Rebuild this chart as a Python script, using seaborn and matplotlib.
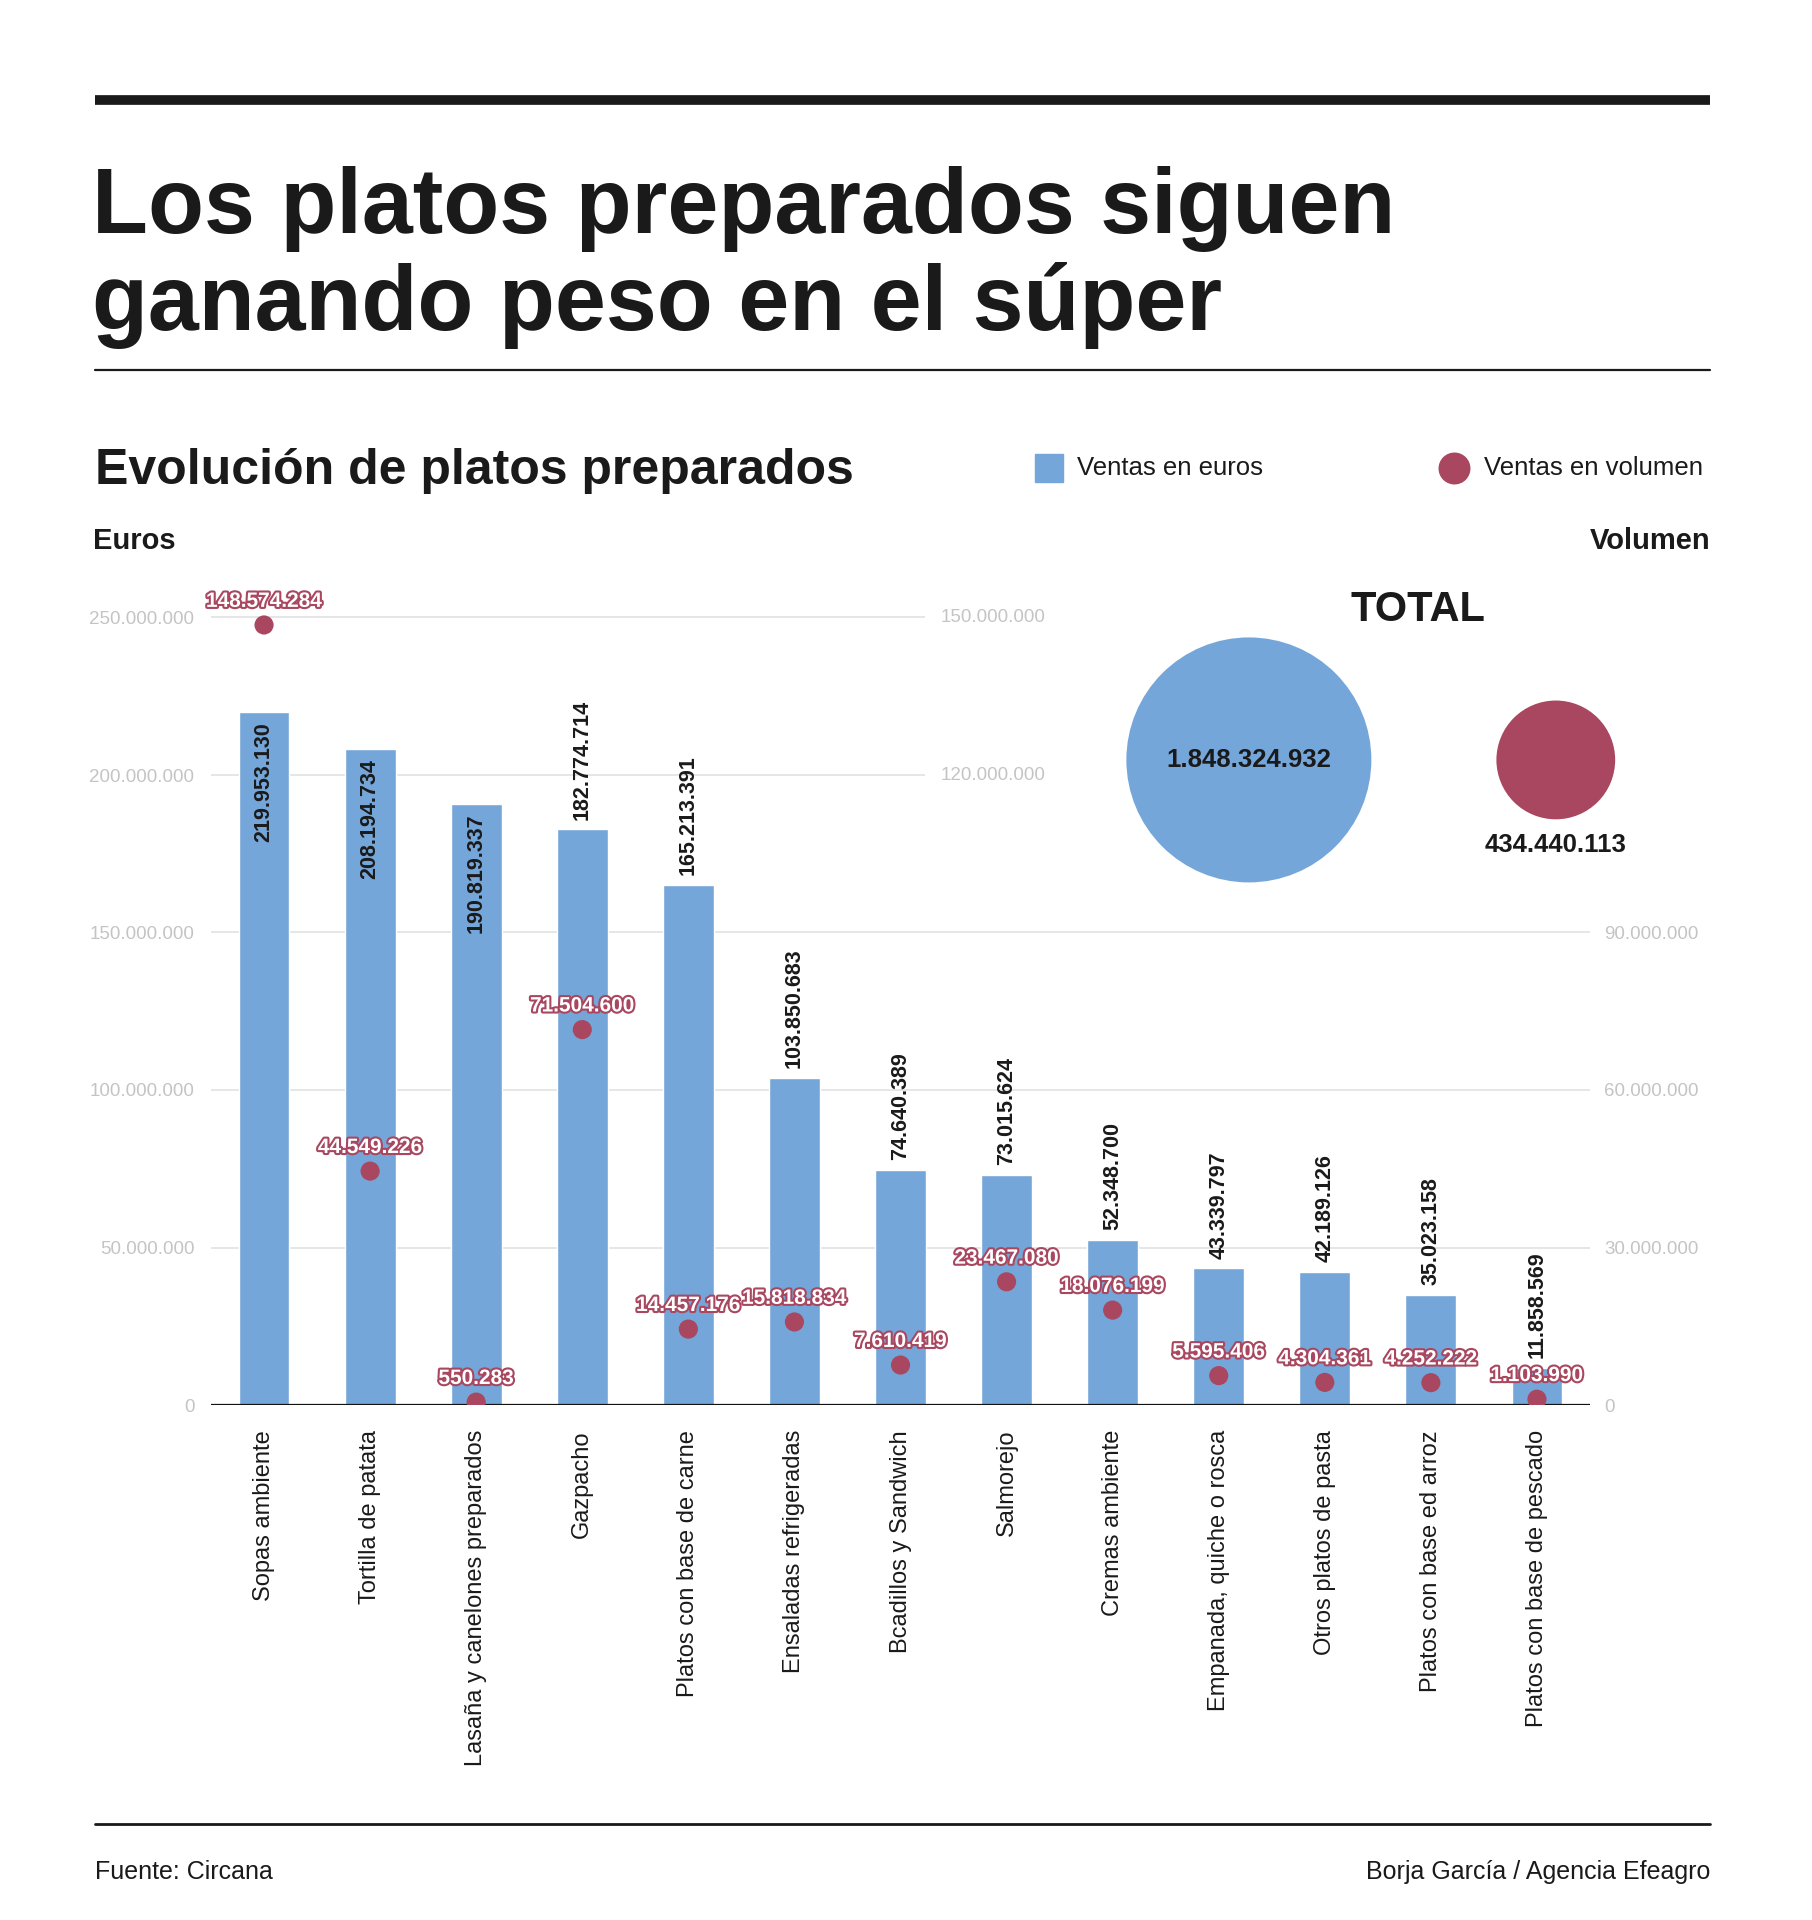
import matplotlib

matplotlib.use("Agg")
import matplotlib.patheffects as pe  # noqa: E402
import matplotlib.pyplot as plt  # noqa: E402
import numpy as np  # noqa: E402
import seaborn as sns  # noqa: E402
from matplotlib.lines import Line2D  # noqa: E402

# datos
categorias = [
    "Sopas ambiente",
    "Tortilla de patata",
    "Lasaña y canelones preparados",
    "Gazpacho",
    "Platos con base de carne",
    "Ensaladas refrigeradas",
    "Bcadillos y Sandwich",
    "Salmorejo",
    "Cremas ambiente",
    "Empanada, quiche o rosca",
    "Otros platos de pasta",
    "Platos con base ed arroz",
    "Platos con base de pescado",
]
ventas_euros = [
    219953130, 208194734, 190819337, 182774714, 165213391, 103850683, 74640389,
    73015624, 52348700, 43339797, 42189126, 35023158, 11858569,
]
ventas_volumen = [
    148574284, 44549226, 550283, 71504600, 14457176, 15818834, 7610419,
    23467080, 18076199, 5595406, 4304361, 4252222, 1103990,
]
totales = [1848324932, 434440113]
ticks_euros = [0, 50000000, 100000000, 150000000, 200000000, 250000000]
ticks_volumen = [0, 30000000, 60000000, 90000000, 120000000, 150000000]

BLUE = "#75a6d9"
RED = "#a8475f"
GRID = "#e2e2e2"
TICK = "#c4c4c4"
INK = "#1a1a1a"

sns.set_theme(style="white")
plt.rcParams["font.family"] = ["Liberation Sans", "DejaVu Sans"]

W, H = 1812, 1920
fig = plt.figure(figsize=(W / 100, H / 100), dpi=100)


def fx(px):
    return px / W


def fy(py):
    return 1 - py / H


def fmt(v):
    return f"{v:,}".replace(",", ".")


# --- cabecera
fig.add_artist(Line2D([fx(95), fx(1710)], [fy(100), fy(100)], transform=fig.transFigure,
                      color=INK, lw=7, solid_capstyle="butt"))
for txt, y in [("Los platos preparados siguen", 233), ("ganando peso en el súper", 330)]:
    fig.text(fx(92), fy(y), txt, va="baseline", ha="left", fontsize=66,
             fontweight="bold", color=INK)
fig.add_artist(Line2D([fx(95), fx(1710)], [fy(370), fy(370)], transform=fig.transFigure,
                      color=INK, lw=1.6))
fig.text(fx(95), fy(484), "Evolución de platos preparados", va="baseline", fontsize=36,
         fontweight="bold", color=INK)

# leyenda
fig.add_artist(Line2D([fx(1049)], [fy(468)], transform=fig.transFigure, marker="s",
                      markersize=20, color=BLUE, lw=0))
fig.text(fx(1077), fy(468), "Ventas en euros", va="center", fontsize=18.5, color=INK)
fig.add_artist(Line2D([fx(1454)], [fy(468)], transform=fig.transFigure, marker="o",
                      markersize=22, color=RED, lw=0))
fig.text(fx(1484), fy(468), "Ventas en volumen", va="center", fontsize=18.5, color=INK)

fig.text(fx(93), fy(541), "Euros", va="center", ha="left", fontsize=21, fontweight="bold",
         color=INK)
fig.text(fx(1710), fy(541), "Volumen", va="center", ha="right", fontsize=21, fontweight="bold",
         color=INK)

# --- grafico principal
ax = fig.add_axes([fx(211), fy(1405), fx(1590) - fx(211), (1405 - 586) / H])
n = len(categorias)
ax.set_xlim(-0.5, n - 0.5)
ax.set_ylim(0, 260000000)

for t in ticks_euros[1:]:
    xmax = 6.23 if t >= 200000000 else n - 0.5
    ax.hlines(t, -0.5, xmax, color=GRID, lw=1.2, zorder=0)

sns.barplot(x=categorias, y=ventas_euros, color=BLUE, saturation=1, width=0.48, ax=ax,
            zorder=2)
ax.axhline(0, color="#111111", lw=1.6, zorder=4)

for i, v in enumerate(ventas_euros):
    inside = v > 185000000
    ax.annotate(fmt(v), (i, v), xytext=(0, -7 if inside else 7), textcoords="offset points",
                rotation=90, ha="center", va="top" if inside else "bottom",
                fontsize=15.5, fontweight="bold", color=INK, zorder=5)

ax.set_xticks(range(n))
ax.set_xticklabels(categorias, rotation=90, fontsize=17, color=INK)
ax.set_yticks(ticks_euros)
ax.set_yticklabels([fmt(t) for t in ticks_euros], fontsize=13.5, color=TICK)
ax.tick_params(axis="x", length=0, pad=18)
ax.tick_params(axis="y", length=0, pad=12)
ax.set_xlabel("")
ax.set_ylabel("")
sns.despine(ax=ax, left=True, bottom=True)

# eje de volumen
ax2 = ax.twinx()
ax2.set_ylim(0, 156000000)
ax2.set_yticks(ticks_volumen[:4])
ax2.set_yticklabels([fmt(t) for t in ticks_volumen[:4]], fontsize=13.5, color=TICK)
ax2.tick_params(axis="y", length=0, pad=10)
for t in ticks_volumen[4:]:
    ax2.text(6.38, t, fmt(t), ha="left", va="center", fontsize=13.5, color=TICK)
for s in ax2.spines.values():
    s.set_visible(False)
ax2.grid(False)

sns.scatterplot(x=np.arange(n), y=ventas_volumen, ax=ax2, color=RED, s=190,
                edgecolor="none", zorder=6, legend=False)
for i, v in enumerate(ventas_volumen):
    ax2.annotate(fmt(v), (i, v), xytext=(0, 17), textcoords="offset points",
                 ha="center", va="center", fontsize=15, fontweight="bold", color="white",
                 annotation_clip=False, zorder=7,
                 path_effects=[pe.withStroke(linewidth=3, foreground=RED)])
ax2.set_ylabel("")

# --- totales
ax_tot = fig.add_axes([fx(1100), fy(900), 620 / W, 340 / H])
ax_tot.set_xlim(-0.485, 1.535)
ax_tot.set_ylim(-0.412, 0.588)
ax_tot.axis("off")
k = 176.4 ** 2 / totales[0]
ax_tot.scatter(range(2), [0, 0], s=np.array(totales) * k, c=[BLUE, RED], linewidths=0)
ax_tot.text(0, 0, fmt(totales[0]), ha="center", va="center", fontsize=18.5, fontweight="bold",
            color=INK)
ax_tot.annotate(fmt(totales[1]), (1, 0), xytext=(0, -61), textcoords="offset points",
                ha="center", va="center", fontsize=18.5, fontweight="bold", color=INK)
fig.text(fx(1418), fy(610), "TOTAL", ha="center", va="center", fontsize=30,
         fontweight="bold", color=INK)

# --- pie
fig.add_artist(Line2D([fx(95), fx(1710)], [fy(1824), fy(1824)], transform=fig.transFigure,
                      color=INK, lw=2))
fig.text(fx(95), fy(1872), "Fuente: Circana", va="center", ha="left", fontsize=18, color=INK)
fig.text(fx(1710), fy(1872), "Borja García / Agencia Efeagro", va="center", ha="right",
         fontsize=18, color=INK)

fig.savefig("out.png", dpi=100, facecolor="white")
